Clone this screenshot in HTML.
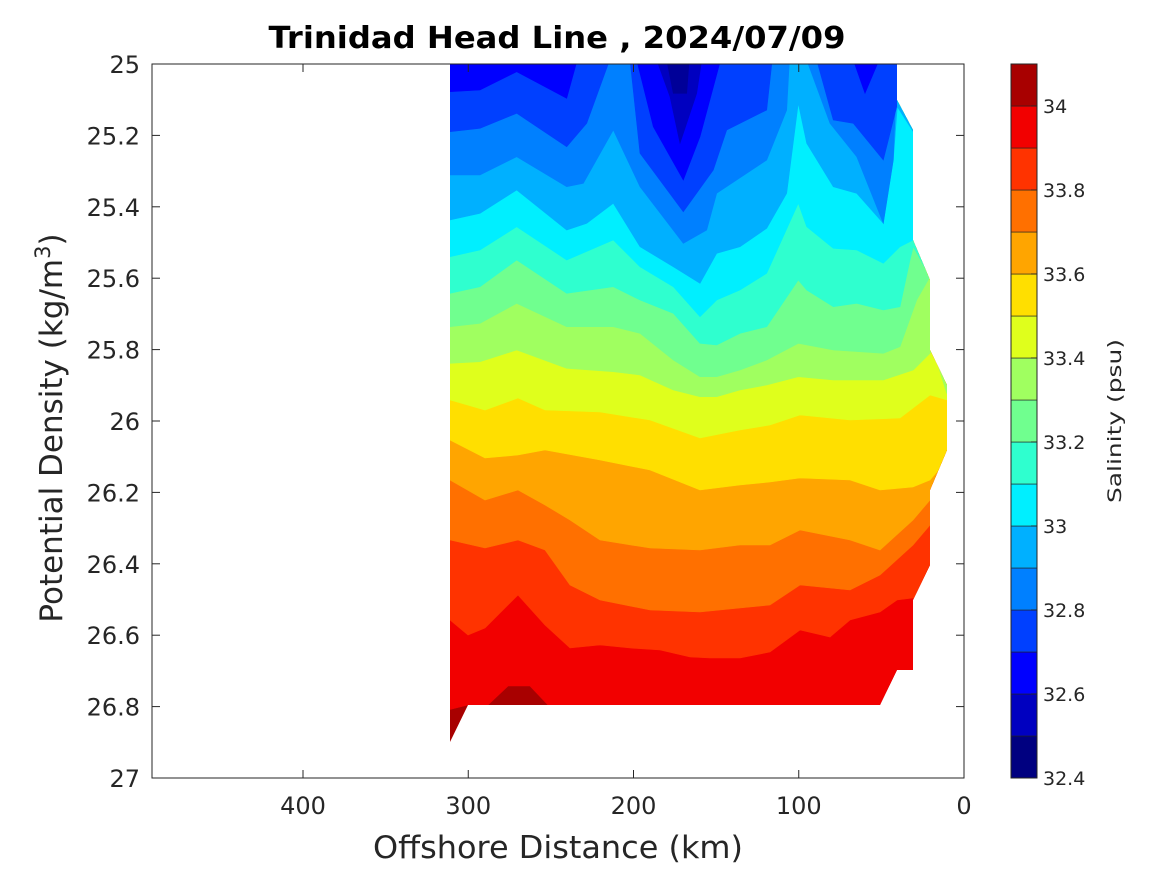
<!DOCTYPE html>
<html><head><meta charset="utf-8"><style>
body{margin:0;background:#fff;}
svg{display:block;font-family:"DejaVu Sans","Liberation Sans",sans-serif;}
</style></head><body>
<svg id="s" width="1167" height="875" xmlns="http://www.w3.org/2000/svg">
<defs><clipPath id="cp"><polygon id="shape" points=""/></clipPath></defs>
<rect x="0" y="0" width="1167" height="875" fill="#fff"/>
<g id="fills" clip-path="url(#cp)"></g>
<rect x="152" y="64" width="812" height="714" fill="none" stroke="#262626" stroke-width="1"/>
<g id="ticks" stroke="#262626" stroke-width="1"></g>
<text x="557" y="48" text-anchor="middle" font-size="30" font-weight="bold" fill="#000" textLength="577" lengthAdjust="spacingAndGlyphs">Trinidad Head Line , 2024/07/09</text>
<g id="lbl" font-size="22" fill="#262626"></g>
<text x="558" y="858" text-anchor="middle" font-size="31" fill="#262626" textLength="370" lengthAdjust="spacingAndGlyphs">Offshore Distance (km)</text>
<text transform="translate(62,428) rotate(-90)" text-anchor="middle" font-size="31" fill="#262626">Potential Density (kg/m<tspan dy="-12" font-size="21">3</tspan><tspan dy="12">)</tspan></text>
<g id="cb"></g>
<text transform="translate(1121,421) rotate(-90)" text-anchor="middle" font-size="19" fill="#262626" textLength="164" lengthAdjust="spacingAndGlyphs">Salinity (psu)</text>
</svg>
<script>
var NS="http://www.w3.org/2000/svg";
function el(p,t,a){var e=document.createElementNS(NS,t);for(var k in a)e.setAttribute(k,a[k]);p.appendChild(e);return e;}
function Z(arr){return arr.map(function(p){return [440+p[0]/3,60+p[1]/3];});}
var shape=[[450,64],[897,64],[897,100],[913,130],[913,240],[930,280],[930,350],[947,385],[947,450],[930,490],[930,565],[913,600],[913,670],[897,670],[880,705],[468,705],[450,742]];
document.getElementById('shape').setAttribute('points',shape.map(function(p){return p.join(',')}).join(' '));
var F=document.getElementById('fills');
function poly(pts,c){el(F,'polygon',{points:pts.map(function(p){return p[0].toFixed(1)+','+p[1].toFixed(1)}).join(' '),fill:c,stroke:c,'stroke-width':0.6});}
function above(b,c){var pts=[[440,40]].concat([[440,b[0][1]]],b,[[1000,b[b.length-1][1]],[1000,40]]);poly(pts,c);}
var C=['#000080','#0000c0','#0000ff','#0040ff','#0080ff','#00b0ff','#00efff','#2fffcf','#70ff8f','#a0ff60','#dfff1c','#ffdf00','#ffa500','#ff7000','#ff3300','#f20000','#a80000'];
poly([[440,40],[1000,40],[1000,800],[440,800]],C[16]);
poly([[440,40],[1000,40],[1000,705],[548,705],[530,686],[508,686],[488,705],[468,705],[440,712]],C[15]);
above([[450,620],[468,635],[485,628],[518,595],[545,625],[570,648],[600,645],[630,648],[660,650],[690,657],[710,658],[740,658],[770,652],[800,630],[830,637],[850,620],[880,612],[897,600],[913,598]],C[14]);
above([[450,540],[485,548],[518,540],[545,550],[570,585],[600,600],[650,610],[700,612],[740,608],[770,605],[800,585],[850,590],[880,575],[913,545],[930,525]],C[13]);
above([[450,480],[485,500],[518,490],[545,505],[570,520],[600,540],[650,548],[700,550],[740,545],[770,545],[800,530],[850,540],[880,550],[913,520],[930,500]],C[12]);
above([[450,440],[485,458],[518,455],[545,450],[600,460],[650,470],[700,490],[740,485],[770,482],[800,478],[850,480],[880,490],[913,487],[930,480],[947,460]],C[11]);
above([[450,400],[485,410],[518,398],[545,410],[600,412],[650,420],[700,438],[740,430],[770,425],[800,415],[850,420],[900,418],[913,408],[930,395],[947,400]],C[10]);
above(Z([[30,910],[120,905],[230,870],[380,925],[520,935],[600,945],[700,990],[780,1010],[830,1010],[900,990],[980,975],[1075,950],[1180,960],[1330,960],[1420,930],[1480,870],[1520,1000]]),C[9]);
above(Z([[30,800],[120,790],[230,730],[380,800],[520,800],[600,820],[700,900],[780,950],[830,950],[900,930],[980,900],[1075,850],[1180,870],[1330,880],[1380,860],[1430,720],[1470,650]]),C[8]);
above(Z([[30,700],[120,680],[230,600],[380,700],[520,680],[600,720],[700,760],[780,850],[830,855],[900,820],[980,800],[1075,660],[1100,690],[1180,740],[1250,730],[1330,750],[1380,740],[1410,600],[1420,560],[1470,650]]),C[7]);
above(Z([[30,590],[120,570],[230,500],[380,600],[520,540],[600,620],[700,680],[780,770],[830,720],[900,690],[980,640],[1075,430],[1100,500],[1180,565],[1250,570],[1330,610],[1380,560],[1420,540],[1470,600]]),C[6]);
above(Z([[30,480],[120,460],[230,390],[380,510],[440,490],[520,430],[600,560],[700,620],[780,670],[830,580],[900,560],[980,505],[1040,400],[1075,130],[1100,250],[1180,380],[1250,400],[1330,490],[1360,300],[1372,140],[1420,215],[1500,215]]),C[5]);
poly(Z([[0,-30],[30,-30],[30,345],[120,345],[230,290],[380,380],[430,370],[520,210],[600,380],[730,550],[800,510],[830,400],[980,300],[1040,150],[1050,-30]]),C[4]);
poly(Z([[1100,-30],[1100,0],[1170,190],[1250,290],[1330,490],[1360,300],[1372,0],[1372,-30]]),C[4]);
poly(Z([[0,-30],[30,-30],[30,215],[120,205],[230,160],[380,260],[440,190],[520,-30]]),C[3]);
poly(Z([[570,-30],[570,0],[600,280],[730,455],[820,330],[860,210],[980,150],[1000,-30]]),C[3]);
poly(Z([[1130,-30],[1130,0],[1180,180],[1240,190],[1330,300],[1370,140],[1372,-30]]),C[3]);
poly(Z([[0,-30],[30,-30],[30,95],[120,90],[230,35],[380,115],[420,-30]]),C[2]);
poly(Z([[590,-30],[590,0],[640,200],[730,360],[780,230],[850,-30]]),C[2]);
poly(Z([[1240,-30],[1240,0],[1275,100],[1330,-30]]),C[2]);
poly(Z([[650,-30],[650,0],[690,110],[720,250],[770,100],[790,-30]]),C[1]);
poly(Z([[680,-30],[680,0],[700,100],[740,100],[750,-30]]),'#000098');
var T=document.getElementById('ticks'),L=document.getElementById('lbl');
[0,100,200,300,400].forEach(function(v){var x=964-v*1.6525;
 el(T,'line',{x1:x,y1:778,x2:x,y2:770});el(T,'line',{x1:x,y1:64,x2:x,y2:72});
 var t=el(L,'text',{x:x,y:814,'text-anchor':'middle','font-size':24});t.textContent=String(v);});
for(var i=0;i<=10;i++){var y=64+i*71.4,v=(25+i*0.2);
 el(T,'line',{x1:152,y1:y,x2:160,y2:y});el(T,'line',{x1:964,y1:y,x2:956,y2:y});
 var s=(Math.round(v*10)/10).toString();var t=el(L,'text',{x:140,y:y+9,'text-anchor':'end','font-size':24});t.textContent=s;}
var CB=document.getElementById('cb');
for(var k=0;k<17;k++){var y0=778-(k+1)*42;el(CB,'rect',{x:1011,y:y0,width:26,height:42,fill:C[k],stroke:'#222','stroke-width':0.6});}
el(CB,'rect',{x:1011,y:64,width:26,height:714,fill:'none',stroke:'#262626','stroke-width':1});
for(var j=0;j<=8;j++){var y=778-j*84,v=(32.4+j*0.2);
 el(CB,'line',{x1:1037,y1:y,x2:1031,y2:y,stroke:'#262626'});
 var t=el(CB,'text',{x:1043,y:y+7,'font-size':19,fill:'#262626'});t.textContent=(Math.round(v*10)/10).toString();}
</script>
</body></html>
